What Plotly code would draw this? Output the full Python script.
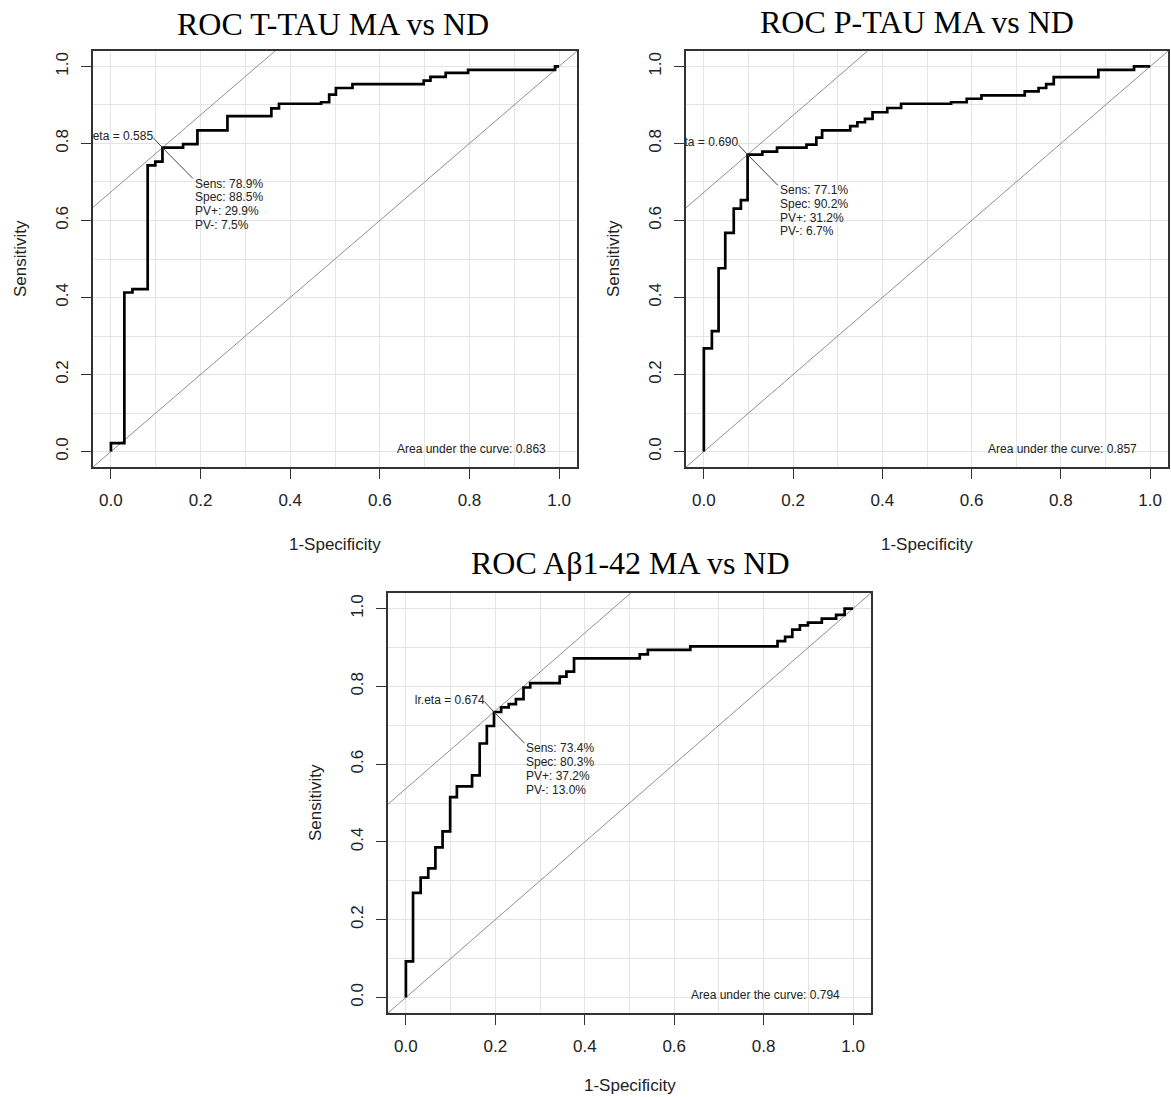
import plotly.graph_objects as go

W, H = 1171, 1097

# ---- data -------------------------------------------------------------
titles = ["ROC T-TAU MA vs ND", "ROC P-TAU MA vs ND", "ROC Aβ1-42 MA vs ND"]

# ROC step corners: (1-specificity, sensitivity) reached after each rise
ttau_fpr = [0.0, 0.0, 0.030, 0.048, 0.082, 0.099, 0.115, 0.161, 0.193, 0.260, 0.358,
            0.375, 0.469, 0.487, 0.502, 0.539, 0.698, 0.713, 0.747, 0.797, 0.991, 1.0]
ttau_tpr = [0.0, 0.022, 0.413, 0.422, 0.743, 0.753, 0.789, 0.798, 0.834, 0.871, 0.891,
            0.903, 0.907, 0.927, 0.944, 0.954, 0.963, 0.973, 0.983, 0.991, 1.0, 1.0]

ptau_fpr = [0.0, 0.0, 0.018, 0.033, 0.048, 0.067, 0.083, 0.098, 0.131, 0.164, 0.230,
            0.252, 0.265, 0.328, 0.344, 0.361, 0.378, 0.411, 0.442, 0.554, 0.589, 0.622,
            0.719, 0.750, 0.767, 0.784, 0.884, 0.964, 1.0]
ptau_tpr = [0.0, 0.268, 0.313, 0.476, 0.568, 0.631, 0.653, 0.771, 0.779, 0.789, 0.797,
            0.815, 0.834, 0.845, 0.855, 0.864, 0.881, 0.892, 0.903, 0.907, 0.916, 0.925,
            0.935, 0.944, 0.954, 0.972, 0.991, 1.0, 1.0]

ab42_fpr = [0.0, 0.0, 0.016, 0.033, 0.050, 0.066, 0.082, 0.099, 0.114, 0.148, 0.165,
            0.181, 0.197, 0.213, 0.230, 0.246, 0.263, 0.278, 0.344, 0.359, 0.376, 0.523,
            0.541, 0.636, 0.831, 0.848, 0.864, 0.881, 0.899, 0.930, 0.962, 0.981, 1.0]
ab42_tpr = [0.0, 0.093, 0.269, 0.308, 0.332, 0.386, 0.427, 0.515, 0.543, 0.571, 0.653,
            0.698, 0.734, 0.746, 0.754, 0.767, 0.797, 0.808, 0.825, 0.838, 0.872, 0.882,
            0.894, 0.903, 0.916, 0.927, 0.946, 0.957, 0.964, 0.974, 0.984, 1.0, 1.0]

sens = [78.9, 77.1, 73.4]
spec = [88.5, 90.2, 80.3]
pv_pos = [29.9, 31.2, 37.2]
pv_neg = [7.5, 6.7, 13.0]
lr_eta = [0.585, 0.690, 0.674]
auc = [0.863, 0.857, 0.794]

curves = [(ttau_fpr, ttau_tpr), (ptau_fpr, ptau_tpr), (ab42_fpr, ab42_tpr)]

# ---- layout geometry (pixels of the plotting box: left, right, top, bottom)
boxes = [(93, 577, 51, 467), (686, 1168, 51, 467), (388, 871, 593, 1013)]
title_pos = [(333, 24), (917, 22), (630, 563)]
xlab_offset = [77, 77, 72]

FONT = "Liberation Sans"
SERIF = "Liberation Serif"
GRID = "#e4e4e4"
AXC = "#333333"
TXT = "#222222"
LO, HI = -0.04, 1.04


def px(x):
    return x / W


def py(y):
    return 1 - y / H


fig = go.Figure()
annotations = []

for i, (fpr, tpr) in enumerate(curves):
    n = "" if i == 0 else str(i + 1)
    xa, ya = "x" + n, "y" + n
    l, r, t, b = boxes[i]

    axis_common = dict(
        range=[LO, HI], dtick=0.2, tick0=0, tickformat=".1f",
        ticks="outside", ticklen=10, tickwidth=1.2, tickcolor=AXC,
        showline=True, mirror=True, linecolor=AXC, linewidth=1.5,
        showgrid=True, gridcolor=GRID, gridwidth=1.2,
        minor=dict(dtick=0.1, tick0=0, showgrid=True, gridcolor=GRID, gridwidth=1.2),
        zeroline=False, fixedrange=True,
        tickfont=dict(family=FONT, size=17, color=TXT),
    )
    fig.update_layout(**{
        "xaxis" + n: dict(axis_common, domain=[px(l), px(r)], anchor=ya,
                          ticklabelstandoff=7),
        "yaxis" + n: dict(axis_common, domain=[py(b), py(t)], anchor=xa, tickangle=-90,
                          ticklabelstandoff=6),
    })

    # chance diagonal
    fig.add_trace(go.Scatter(x=[LO, HI], y=[LO, HI], mode="lines", xaxis=xa, yaxis=ya,
                             line=dict(color="#8f8f8f", width=1), hoverinfo="skip"))

    # optimal cut-off and the unit-slope line through it
    ox = 1 - spec[i] / 100
    oy = sens[i] / 100
    c = oy - ox
    fig.add_trace(go.Scatter(x=[LO, HI - c], y=[LO + c, HI], mode="lines", xaxis=xa, yaxis=ya,
                             line=dict(color="#8f8f8f", width=1), hoverinfo="skip"))

    # ROC step curve
    fig.add_trace(go.Scatter(x=fpr, y=tpr, mode="lines", line_shape="hv", xaxis=xa, yaxis=ya,
                             line=dict(color="#000000", width=2.7), hoverinfo="skip"))

    # pointer lines from the cut-off point to its labels
    fig.add_trace(go.Scatter(x=[ox - 0.021, ox, ox + 0.068], y=[oy + 0.026, oy, oy - 0.080],
                             mode="lines", xaxis=xa, yaxis=ya,
                             line=dict(color="#444444", width=1), hoverinfo="skip"))

    # cut-off label (clipped by the plotting box like base graphics)
    fig.add_trace(go.Scatter(x=[ox - 0.021], y=[oy + 0.029], mode="text", xaxis=xa, yaxis=ya,
                             text=[f"lr.eta = {lr_eta[i]:.3f}"], textposition="middle left",
                             textfont=dict(family=FONT, size=12, color=TXT),
                             cliponaxis=True, hoverinfo="skip"))

    stats = [f"Sens: {sens[i]:.1f}%", f"Spec: {spec[i]:.1f}%",
             f"PV+: {pv_pos[i]:.1f}%", f"PV-: {pv_neg[i]:.1f}%"]
    for k, s in enumerate(stats):
        annotations.append(dict(x=ox + 0.068, y=oy - 0.093 - 0.0355 * k, xref=xa, yref=ya,
                                text=s, showarrow=False, xanchor="left", yanchor="middle",
                                font=dict(family=FONT, size=12, color=TXT)))

    annotations.append(dict(x=0.976, y=0.007, xref=xa, yref=ya,
                            text=f"Area under the curve: {auc[i]:.3f}", showarrow=False,
                            xanchor="right", yanchor="middle",
                            font=dict(family=FONT, size=12, color=TXT)))

    # axis titles
    annotations.append(dict(x=px((l + r) / 2), y=py(b + xlab_offset[i]), xref="paper",
                            yref="paper", text="1-Specificity", showarrow=False,
                            xanchor="center", yanchor="middle",
                            font=dict(family=FONT, size=17, color=TXT)))
    annotations.append(dict(x=px(l - 73), y=py((t + b) / 2), xref="paper", yref="paper",
                            text="Sensitivity", showarrow=False, textangle=-90,
                            xanchor="center", yanchor="middle",
                            font=dict(family=FONT, size=17, color=TXT)))

    # panel title
    tx, ty = title_pos[i]
    annotations.append(dict(x=px(tx), y=py(ty), xref="paper", yref="paper",
                            text=titles[i], showarrow=False,
                            xanchor="center", yanchor="middle",
                            font=dict(family=SERIF, size=32, color="#000000")))

fig.update_layout(
    width=W, height=H,
    margin=dict(l=0, r=0, t=0, b=0),
    paper_bgcolor="white", plot_bgcolor="white",
    showlegend=False,
    annotations=annotations,
)

fig.write_html("out.html")
